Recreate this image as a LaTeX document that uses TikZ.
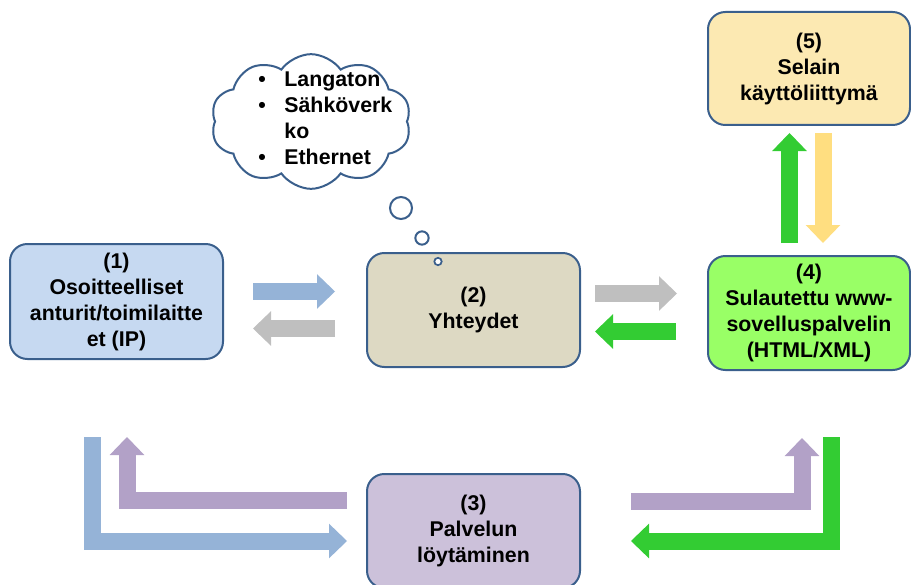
\documentclass[tikz,border=0pt]{standalone}
\usepackage{fontspec}
\setmainfont{Liberation Sans}
\usetikzlibrary{arrows.meta,shapes.symbols}

% box outlines and fills
\definecolor{edge}{RGB}{58,95,140}
\definecolor{fillA}{RGB}{198,217,241}
\definecolor{fillB}{RGB}{221,217,195}
\definecolor{fillC}{RGB}{204,193,218}
\definecolor{fillD}{RGB}{153,255,102}
\definecolor{fillE}{RGB}{252,233,178}
% block arrow colours
\definecolor{arBlue}{RGB}{149,179,215}
\definecolor{arGray}{RGB}{191,191,191}
\definecolor{arGreen}{RGB}{51,204,51}
\definecolor{arPurple}{RGB}{178,161,199}
\definecolor{arYellow}{RGB}{255,222,128}

\begin{document}
\begin{tikzpicture}[x=0.75pt,y=-0.75pt,
  box/.style={draw=edge, line width=1.5pt, rounded corners=13pt, inner sep=0pt,
    align=center, font=\fontsize{16}{19.5}\selectfont\bfseries},
  flow/.style={line width=12.75pt, line join=miter,
    -{Triangle[length=13.5pt,width=26pt,line width=0pt]}},
  bubble/.style={circle, draw=edge, line width=1.5pt, fill=white, inner sep=0pt},
]
\useasboundingbox (0,0) rectangle (911,585);
\clip (0,0) rectangle (911,585);

% main boxes
\node[box, fill=fillA, minimum width=159.75pt, minimum height=86.25pt] (n1) at (116.5,301.5)
  {(1)\\Osoitteelliset\\anturit/toimilaitte\\et (IP)};
\node[box, fill=fillB, minimum width=159.75pt, minimum height=85.5pt] (n2) at (473.5,310)
  {(2)\\Yhteydet};
\node[box, fill=fillC, minimum width=159.75pt, minimum height=85.5pt] (n3) at (473.5,531)
  {(3)\\Palvelun\\löytäminen};
\node[box, fill=fillD, minimum width=151.5pt, minimum height=85.5pt] (n4) at (809,313)
  {(4)\\Sulautettu www-\\sovelluspalvelin\\(HTML/XML)};
\node[box, fill=fillE, minimum width=151.5pt, minimum height=84.75pt] (n5) at (809,68.5)
  {(5)\\Selain\\käyttöliittymä};

% thought cloud with its trail of bubbles
\node[cloud, draw=edge, line width=1.5pt, fill=white, cloud puffs=10, cloud puff arc=110,
  aspect=1.9, minimum width=150pt, minimum height=101pt, inner sep=0pt] (net) at (311,121.5) {};
\node[anchor=base west, inner sep=0pt, font=\fontsize{16}{19.3}\selectfont\bfseries] (netlist) at (258,87)
  {\begin{tabular}[t]{@{}l@{\hspace{14pt}}l@{}}
    \textbullet & Langaton\\
    \textbullet & Sähköverk\\
                & ko\\
    \textbullet & Ethernet
  \end{tabular}};
\node[bubble, minimum size=16.5pt] (b1) at (401,208) {};
\node[bubble, minimum size=10pt] (b2) at (422,238) {};
\node[bubble, minimum size=5.5pt, line width=1.3pt] (b3) at (438,261.5) {};

% arrow end points
\coordinate (a12s) at (253,291.5);  \coordinate (a12e) at (335,291.5);
\coordinate (a21s) at (335,328.5);  \coordinate (a21e) at (253,328.5);
\coordinate (a24s) at (595,293.5);  \coordinate (a24e) at (677,293.5);
\coordinate (a42s) at (676,331.5);  \coordinate (a42e) at (595,331.5);
\coordinate (a45s) at (789.5,243);  \coordinate (a45e) at (789.5,133);
\coordinate (a54s) at (823,133);    \coordinate (a54e) at (823,243);
\coordinate (a13s) at (92,437);     \coordinate (a13c) at (92,541);   \coordinate (a13e) at (347,541);
\coordinate (a31s) at (347,500);    \coordinate (a31c) at (127,500);  \coordinate (a31e) at (127,437);
\coordinate (a34s) at (631,501);    \coordinate (a34c) at (802,501);  \coordinate (a34e) at (802,438);
\coordinate (a43s) at (831,437);    \coordinate (a43c) at (831,541);  \coordinate (a43e) at (631,541);

% block arrows between the boxes
\draw[flow, arBlue]   (a12s) -- (a12e);
\draw[flow, arGray]   (a21s) -- (a21e);
\draw[flow, arGray]   (a24s) -- (a24e);
\draw[flow, arGreen]  (a42s) -- (a42e);
\draw[flow, arGreen]  (a45s) -- (a45e);
\draw[flow, arYellow] (a54s) -- (a54e);
\draw[flow, arBlue]   (a13s) -- (a13c) -- (a13e);
\draw[flow, arPurple] (a31s) -- (a31c) -- (a31e);
\draw[flow, arPurple] (a34s) -- (a34c) -- (a34e);
\draw[flow, arGreen]  (a43s) -- (a43c) -- (a43e);
\end{tikzpicture}
\end{document}
